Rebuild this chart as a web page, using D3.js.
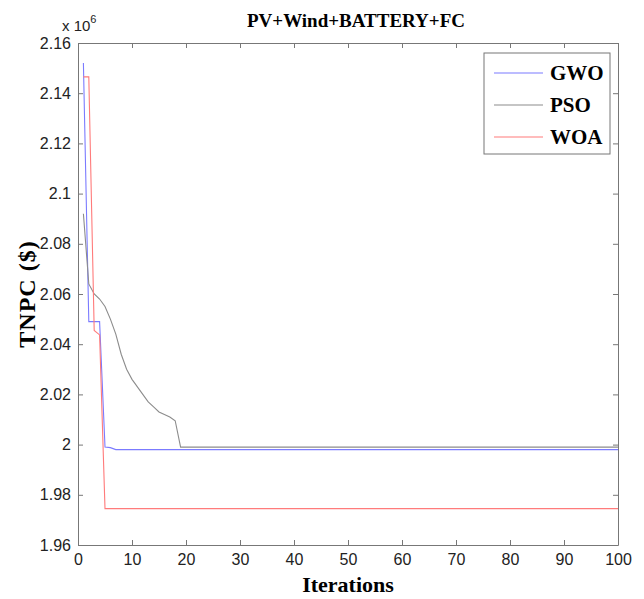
<!DOCTYPE html>
<html>
<head>
<meta charset="utf-8">
<script src="https://cdn.jsdelivr.net/npm/d3@7"></script>
<style>
  body { margin: 0; background: #fff; }
  .tick text { font-family: "Liberation Sans", Arial, sans-serif; font-size: 16px; fill: #222; }
</style>
</head>
<body>
<div class="chart"></div>
<script>
// convergence curves (TNPC in $ x 10^6)
const gwoIter = [1, 2, 3, 4, 5, 6, 7, 100];
const gwoVal  = [2.152, 2.049, 2.049, 2.049, 1.999, 1.9988, 1.998, 1.998];

const psoIter = [1, 2, 3, 4, 5, 6, 7, 8, 9, 10, 11, 12, 13, 14, 15, 16, 17, 18, 19, 100];
const psoVal  = [2.092, 2.064, 2.060, 2.058, 2.055, 2.050, 2.044, 2.036, 2.030, 2.026, 2.023, 2.020,
                 2.017, 2.015, 2.013, 2.012, 2.011, 2.0095, 1.999, 1.999];

const woaIter = [1, 2, 3, 4, 5, 100];
const woaVal  = [2.1465, 2.1465, 2.0455, 2.0437, 1.9745, 1.9745];

const xTicks = [0, 10, 20, 30, 40, 50, 60, 70, 80, 90, 100];
const yTicks = [1.96, 1.98, 2, 2.02, 2.04, 2.06, 2.08, 2.1, 2.12, 2.14, 2.16];

const series = [
  { name: 'GWO', iter: gwoIter, val: gwoVal, color: '#7b7bff' },
  { name: 'PSO', iter: psoIter, val: psoVal, color: '#8c8c8c' },
  { name: 'WOA', iter: woaIter, val: woaVal, color: '#ff7b7b' }
];

const svgWidth = 644, svgHeight = 599;
const margin = { top: 43, right: 26, bottom: 54, left: 78 };
const width = svgWidth - margin.left - margin.right;
const height = svgHeight - margin.top - margin.bottom;

const svg = d3.select('.chart').append('svg')
  .attr('width', svgWidth)
  .attr('height', svgHeight);

const g = svg.append('g').attr('transform', `translate(${margin.left},${margin.top})`);

const x = d3.scaleLinear().domain([0, 100]).range([0, width]);
const y = d3.scaleLinear().domain([1.96, 2.16]).range([height, 0]);

// axes (MATLAB style box, inward ticks)
const axisColor = '#777';
g.append('g')
  .attr('transform', `translate(0,${height})`)
  .call(d3.axisBottom(x).tickValues(xTicks).tickSizeInner(-5).tickSizeOuter(0).tickPadding(9));
g.append('g')
  .call(d3.axisTop(x).tickValues(xTicks).tickSizeInner(-5).tickSizeOuter(0).tickFormat(''));
g.append('g')
  .call(d3.axisLeft(y).tickValues(yTicks).tickSizeInner(-5).tickSizeOuter(0).tickPadding(7)
    .tickFormat(d => d3.format('')(+d.toFixed(2))));
g.append('g')
  .attr('transform', `translate(${width},0)`)
  .call(d3.axisRight(y).tickValues(yTicks).tickSizeInner(-5).tickSizeOuter(0).tickFormat(''));
g.selectAll('.domain').attr('stroke', axisColor);
g.selectAll('.tick line').attr('stroke', axisColor);

// lines
const line = d3.line().x(d => x(d[0])).y(d => y(d[1]));
series.forEach(s => {
  g.append('path')
    .datum(s.iter.map((it, i) => [it, s.val[i]]))
    .attr('fill', 'none')
    .attr('stroke', s.color)
    .attr('stroke-width', 1.1)
    .attr('d', line);
});

// exponent marker
const expo = svg.append('text')
  .attr('x', 62).attr('y', 31)
  .style('font-family', '"Liberation Sans", Arial, sans-serif')
  .style('font-size', '15px').attr('fill', '#222');
expo.append('tspan').text('x 10');
expo.append('tspan').attr('dy', -8).style('font-size', '11px').text('6');

// title and labels
svg.append('text')
  .attr('x', 356).attr('y', 27)
  .attr('text-anchor', 'middle')
  .style('font-family', '"Liberation Serif", "Times New Roman", serif')
  .style('font-weight', 'bold').style('font-size', '19px')
  .text('PV+Wind+BATTERY+FC');

svg.append('text')
  .attr('x', margin.left + width / 2).attr('y', 592)
  .attr('text-anchor', 'middle')
  .style('font-family', '"Liberation Serif", "Times New Roman", serif')
  .style('font-weight', 'bold').style('font-size', '22px')
  .text('Iterations');

svg.append('text')
  .attr('transform', `translate(35,${margin.top + height / 2}) rotate(-90)`)
  .attr('text-anchor', 'middle')
  .style('font-family', '"Liberation Serif", "Times New Roman", serif')
  .style('font-weight', 'bold').style('font-size', '24px')
  .style('letter-spacing', '1px')
  .text('TNPC ($)');

// legend
const legend = svg.append('g').attr('transform', 'translate(484,53)');
legend.append('rect')
  .attr('width', 126).attr('height', 101)
  .attr('fill', '#fff').attr('stroke', axisColor);
series.forEach((s, i) => {
  const ly = 20 + i * 32;
  legend.append('line')
    .attr('x1', 10).attr('x2', 59).attr('y1', ly).attr('y2', ly)
    .attr('stroke', s.color).attr('stroke-width', 1.1);
  legend.append('text')
    .attr('x', 66).attr('y', ly + 7)
    .style('font-family', '"Liberation Serif", "Times New Roman", serif')
    .style('font-weight', 'bold').style('font-size', '21px')
    .text(s.name);
});
</script>
</body>
</html>
